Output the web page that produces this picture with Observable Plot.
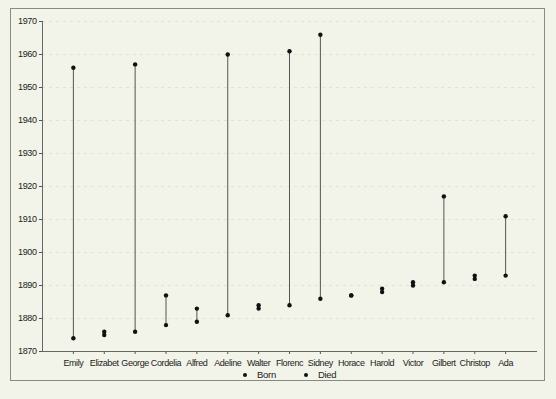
<!DOCTYPE html>
<html>
<head>
<meta charset="utf-8">
<script src="https://cdn.jsdelivr.net/npm/d3@7"></script>
<script src="https://cdn.jsdelivr.net/npm/@observablehq/plot@0.6"></script>
<style>
  html, body { margin: 0; padding: 0; background: #f2f3e9; }
  #wrap { position: relative; width: 556px; height: 399px; overflow: hidden; font-family: "Liberation Sans", Arial, sans-serif; }
  #box { position: absolute; left: 10px; top: 8px; width: 535px; height: 373px; border: 1px solid #8a8a84; box-sizing: border-box; }
  #chart { position: absolute; left: 0; top: 0; }
  #chart text { letter-spacing: -0.4px; }
  #legend { position: absolute; left: 0; top: 368px; width: 556px; height: 14px; font-size: 9.5px; letter-spacing: -0.3px; color: #222; }
  .item { position: absolute; top: 0; line-height: 14px; }
  .mk { display: inline-block; width: 4px; height: 4px; border-radius: 50%; background: #111; vertical-align: middle; margin-right: 10px; }
</style>
</head>
<body>
<div id="wrap">
  <div id="box"></div>
  <div id="chart"></div>
  <div id="legend">
    <span class="item" style="left:243px"><span class="mk"></span>Born</span>
    <span class="item" style="left:304px"><span class="mk"></span>Died</span>
  </div>
</div>
<script>
const names = ["Emily","Elizabet","George","Cordelia","Alfred","Adeline","Walter","Florenc","Sidney","Horace","Harold","Victor","Gilbert","Christop","Ada"];
const born  = [1874,1875,1876,1878,1879,1881,1883,1884,1886,1887,1888,1890,1891,1892,1893];
const died  = [1956,1876,1957,1887,1883,1960,1884,1961,1966,1887,1889,1891,1917,1893,1911];
const yTicks = [1870,1880,1890,1900,1910,1920,1930,1940,1950,1960,1970];

const rows = names.map((n, i) => ({name: n, born: born[i], died: died[i]}));

const chart = Plot.plot({
  width: 556,
  height: 368,
  marginLeft: 42,
  marginRight: 20,
  marginTop: 21,
  marginBottom: 17,
  style: {background: "transparent", fontFamily: "'Liberation Sans', Arial, sans-serif", fontSize: "9px", color: "#222"},
  x: {type: "point", domain: names, padding: 1, round: false, label: null},
  y: {domain: [1870, 1970], label: null},
  marks: [
    Plot.gridY(yTicks, {stroke: "#cfcfc6", strokeOpacity: 0.5, strokeDasharray: "3,4"}),
    Plot.axisY(yTicks, {tickSize: 3, tickPadding: 3, tickFormat: d => String(d), stroke: "#555"}),
    Plot.axisX({tickSize: 3, tickPadding: 5, stroke: "#555"}),
    Plot.frame({anchor: "left", stroke: "#666"}),
    Plot.frame({anchor: "bottom", stroke: "#666"}),
    Plot.ruleX(rows, {x: "name", y1: "born", y2: "died", stroke: "#555", strokeWidth: 1}),
    Plot.dot(rows, {x: "name", y: "born", r: 2.2, fill: "#111", stroke: "none"}),
    Plot.dot(rows, {x: "name", y: "died", r: 2.2, fill: "#111", stroke: "none"})
  ]
});
document.getElementById("chart").appendChild(chart);
</script>
</body>
</html>
